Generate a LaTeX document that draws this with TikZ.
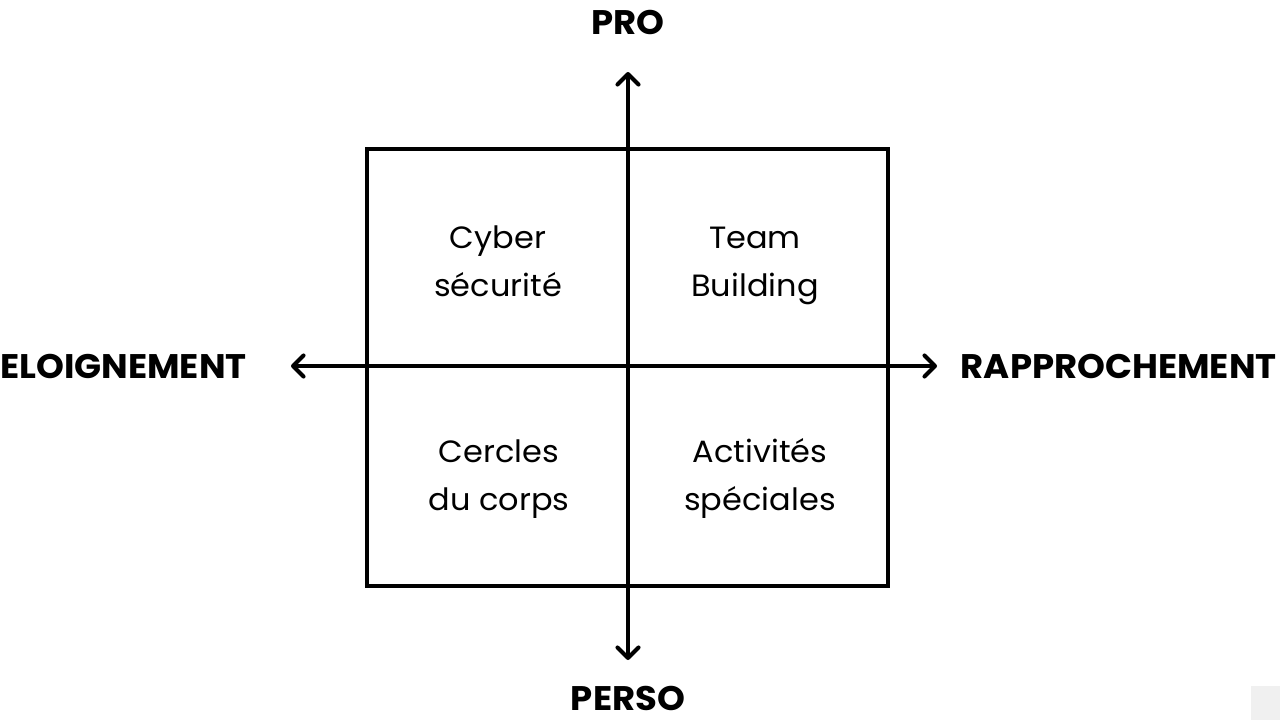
\documentclass[tikz,border=0pt]{standalone}
\usepackage{fontspec}
\setmainfont{Poppins}[FakeStretch=1.04]
\usepackage{xcolor}
\definecolor{axecol}{RGB}{0, 0, 0}
\definecolor{coincol}{RGB}{240, 240, 240}
\usepackage{tikz}
\usetikzlibrary{positioning, arrows.meta}

\begin{document}
\begin{tikzpicture}[x=0.02cm, y=-0.02cm]

  \tikzstyle{quadtext} = [
    align=center, inner sep=0pt, anchor=base,
    font=\fontsize{17.5}{27}\selectfont, text=black
  ]
  \tikzstyle{axelabel} = [
    inner sep=0pt, anchor=base,
    font=\fontsize{19.4}{22}\selectfont\bfseries, text=black
  ]
  \tikzstyle{axe} = [
    line width=0.08cm, color=axecol, line cap=round,
    -{Straight Barb[length=6pt, width=12pt, round]}
  ]

  \useasboundingbox (0,0) rectangle (1280,720);

  % cadre
  \node[draw, line width=0.08cm, minimum width=10.42cm, minimum height=8.74cm,
        inner sep=0pt] (cadre) at (627.5,367.5) {};

  % axes
  \coordinate (centre) at (628,366);
  \coordinate (haut) at (628,72);
  \coordinate (bas) at (628,660);
  \coordinate (gauche) at (291,366);
  \coordinate (droite) at (937,366);

  \draw[axe] (centre) -- (haut);
  \draw[axe] (centre) -- (bas);
  \draw[axe] (centre) -- (gauche);
  \draw[axe] (centre) -- (droite);

  % libelles des axes
  \node[axelabel] (pro) at (628,34) {PRO};
  \node[axelabel] (perso) at (628,710) {PERSO};
  \node[axelabel, anchor=base east] (eloign) at (247,378) {ELOIGNEMENT};
  \node[axelabel, anchor=base east] (rappro) at (1277,378) {RAPPROCHEMENT};

  % quadrants
  \node[quadtext] (q1) at (498,296) {Cyber\\sécurité};
  \node[quadtext] (q2) at (755,296) {Team\\Building};
  \node[quadtext] (q3) at (499,510) {Cercles\\du corps};
  \node[quadtext] (q4) at (760,510) {Activités\\spéciales};

  \fill[coincol] (1251,686) rectangle (1280,720);

\end{tikzpicture}
\end{document}
